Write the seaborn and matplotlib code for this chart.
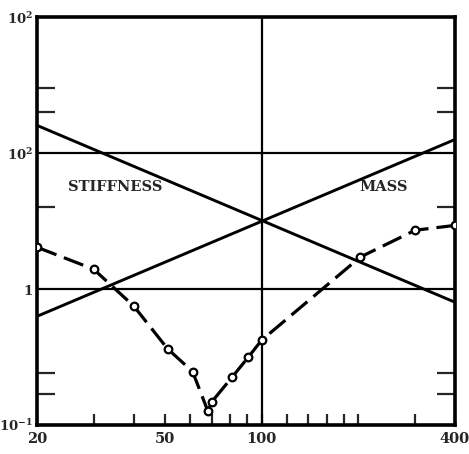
import numpy as np
import pandas as pd
import matplotlib
matplotlib.use("Agg")
import matplotlib.pyplot as plt
import seaborn as sns
from matplotlib.ticker import FixedLocator, FixedFormatter, NullFormatter

# Frequency axis (Hz) and the two asymptotic impedance lines
freq_ends = [20, 400]
stiffness = [16.0, 0.8]
mass = [0.63, 12.6]

# Measured response points
meas_freq = [20, 30, 40, 51, 61, 68, 70, 81, 91, 100, 203, 301, 400]
meas_val = [2.03, 1.40, 0.75, 0.363, 0.247, 0.127, 0.148, 0.225, 0.316, 0.42, 1.72, 2.71, 2.94]

# Axis ticks and labels
x_major = [20, 50, 100, 400]
x_major_labels = ["20", "50", "100", "400"]
x_minor = [30, 40, 60, 70, 80, 90, 120, 140, 160, 180, 200, 300]
y_major = [0.1, 1, 10, 100]
y_major_labels = [r"$\mathbf{10^{-1}}$", r"$\mathbf{1}$", r"$\mathbf{10^{2}}$", r"$\mathbf{10^{2}}$"]
y_minor = [0.17, 0.24, 4, 20, 30]

sns.set_style("white")
plt.rcParams["font.family"] = ["DejaVu Serif"]
plt.rcParams["mathtext.fontset"] = "dejavuserif"

fig = plt.figure(figsize=(4.69, 4.54), dpi=100)
ax = fig.add_axes([0.079, 0.064, 0.891, 0.898])

lines = pd.DataFrame({"f": freq_ends, "stiffness": stiffness, "mass": mass})
meas = pd.DataFrame({"f": meas_freq, "v": meas_val})

sns.lineplot(data=lines, x="f", y="stiffness", ax=ax, color="black", lw=2.1)
sns.lineplot(data=lines, x="f", y="mass", ax=ax, color="black", lw=2.1)
sns.lineplot(data=meas, x="f", y="v", ax=ax, color="black", lw=2.3,
             linestyle=(0, (6.5, 2.5)), sort=False)
ax.plot(meas["f"], meas["v"], linestyle="none", marker="o", markersize=5.5,
        markerfacecolor="white", markeredgecolor="black", markeredgewidth=1.6,
        zorder=5)

ax.set_xscale("log")
ax.set_yscale("log")
ax.set_xlim(20, 400)
ax.set_ylim(0.1, 100)

# Grid lines at 1, 10 and 100 Hz
for yv in (1, 10):
    ax.axhline(yv, color="black", lw=1.6, zorder=1)
ax.axvline(100, color="black", lw=1.6, zorder=1)

ax.xaxis.set_major_locator(FixedLocator(x_major))
ax.xaxis.set_major_formatter(FixedFormatter(x_major_labels))
ax.xaxis.set_minor_locator(FixedLocator(x_minor))
ax.xaxis.set_minor_formatter(NullFormatter())
ax.yaxis.set_major_locator(FixedLocator(y_major))
ax.yaxis.set_major_formatter(FixedFormatter(y_major_labels))
ax.yaxis.set_minor_locator(FixedLocator(y_minor))
ax.yaxis.set_minor_formatter(NullFormatter())

ax.tick_params(axis="x", which="both", direction="in", length=8, width=1.6,
               bottom=True, top=False, labelsize=10.5, pad=5)
ax.tick_params(axis="y", which="major", length=0, labelsize=9.5, pad=3)
ax.tick_params(axis="y", which="minor", direction="in", length=13, width=1.6,
               left=True, right=True)
for lab in ax.get_xticklabels():
    lab.set_fontweight("bold")

for s in ax.spines.values():
    s.set_linewidth(2.6)
    s.set_color("black")

ax.set_xlabel("")
ax.set_ylabel("")

ax.text(25, 5.6, "STIFFNESS", fontsize=10.5, fontweight="bold", va="center", ha="left")
ax.text(240, 5.6, "MASS", fontsize=10.5, fontweight="bold", va="center", ha="center")

fig.savefig("out.png", dpi=100)
